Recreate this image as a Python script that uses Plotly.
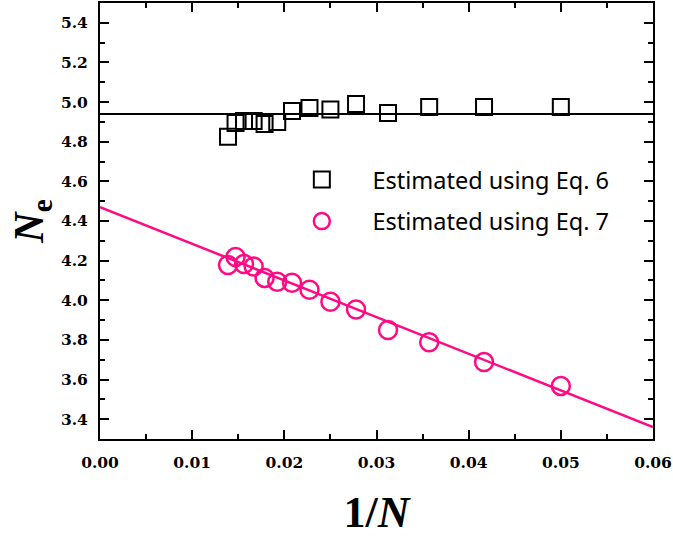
import plotly.graph_objects as go

# ---- data ----
inv_N = [1/72, 1/68, 1/64, 1/60, 1/56, 1/52, 1/48, 1/44, 1/40, 1/36, 1/32, 1/28, 1/24, 1/20]
ne_eq6 = [4.825, 4.895, 4.905, 4.905, 4.89, 4.90, 4.955, 4.97, 4.962, 4.99, 4.945, 4.975, 4.975, 4.975]
ne_eq7 = [4.178, 4.218, 4.183, 4.17, 4.113, 4.093, 4.088, 4.053, 3.993, 3.953, 3.85, 3.788, 3.688, 3.568]
eq6_level = 4.94
fit_intercept = 4.47
fit_slope = -18.5
x_span = [0.0, 0.06]
names = ["Estimated using Eq. 6", "Estimated using Eq. 7"]

PINK = "#FF0A84"
pad = "\u00a0" * 5

fig = go.Figure()
fig.add_trace(go.Scatter(x=x_span, y=[eq6_level, eq6_level], mode="lines",
                         line=dict(color="black", width=2), showlegend=False, hoverinfo="skip"))
fig.add_trace(go.Scatter(x=x_span, y=[fit_intercept + fit_slope * v for v in x_span], mode="lines",
                         line=dict(color=PINK, width=2.5), showlegend=False, hoverinfo="skip"))
fig.add_trace(go.Scatter(x=inv_N, y=ne_eq6, mode="markers", name=pad + names[0], legendgroup="a",
                         marker=dict(symbol="square-open", size=16, color="black", line=dict(width=2))))
fig.add_trace(go.Scatter(x=inv_N, y=ne_eq7, mode="markers", name=pad + names[1], legendgroup="b",
                         marker=dict(symbol="circle-open", size=18, color=PINK, line=dict(width=2.5))))

tickfont = dict(family="DejaVu Serif", size=15.5, color="black", weight="bold")
axis_common = dict(showline=True, linecolor="black", linewidth=2, mirror="ticks",
                   ticks="inside", ticklen=9, tickwidth=2, tickcolor="black",
                   showgrid=False, zeroline=False, tickfont=tickfont, automargin=False)

fig.update_xaxes(range=[0, 0.06], dtick=0.01, tickformat=".2f", ticklabelstandoff=8,
                 minor=dict(dtick=0.005, ticks="inside", ticklen=5, tickwidth=2, tickcolor="black"),
                 title=dict(text="1/<i>N</i>", font=dict(family="Liberation Serif", size=44,
                                                         color="black", weight="bold"), standoff=26),
                 **axis_common)
fig.update_yaxes(range=[3.3, 5.5], dtick=0.2, tickformat=".1f", ticklabelstandoff=7,
                 minor=dict(dtick=0.1, ticks="inside", ticklen=5, tickwidth=2, tickcolor="black"),
                 title=dict(text="<i>N</i><sub>e</sub>", font=dict(family="Liberation Serif", size=42,
                                                                   color="black", weight="bold"), standoff=4),
                 **axis_common)

fig.update_layout(
    width=673, height=539,
    margin=dict(l=100, r=20, t=3, b=100),
    plot_bgcolor="white", paper_bgcolor="white",
    legend=dict(x=0.365, y=0.645, xanchor="left", yanchor="top",
                font=dict(family="Noto Sans", size=23.5, color="black"),
                bgcolor="rgba(0,0,0,0)", tracegroupgap=8, itemsizing="trace"),
)

fig.write_html("out.html")
